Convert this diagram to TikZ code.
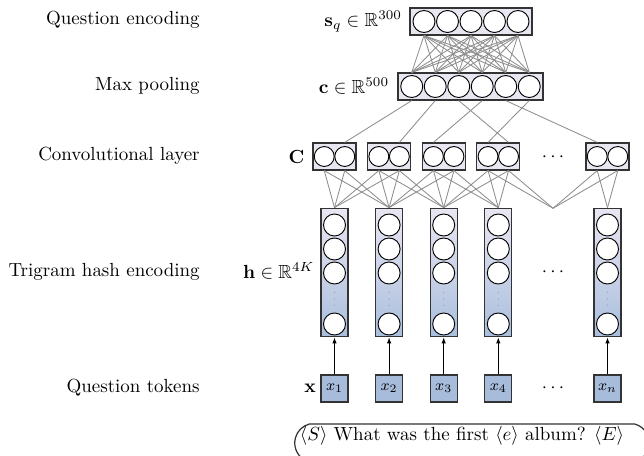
\documentclass[tikz,border=0pt]{standalone}
\usepackage{amssymb}
\usetikzlibrary{arrows.meta,shapes.misc}

\definecolor{lav}{HTML}{E9E6F2}
\definecolor{tokfill}{HTML}{A7BCDB}
\definecolor{hbot}{HTML}{A9BEDD}
\definecolor{frame}{HTML}{333333}
\definecolor{linkc}{HTML}{8E8E8E}

\tikzset{
  layerbox/.style={draw=frame, line width=0.65pt, fill=lav, minimum height=14.2pt, inner sep=0pt},
  unit/.style={circle, draw=black, line width=0.5pt, fill=white, minimum size=11.6pt, inner sep=0pt},
  smallunit/.style={unit, minimum size=10.5pt},
  hcol/.style={draw=frame, line width=0.65pt, top color=lav, bottom color=hbot,
    minimum width=14.2pt, minimum height=67.7pt, inner sep=0pt},
  tokbox/.style={draw=frame, line width=0.65pt, fill=tokfill, minimum size=14.2pt, inner sep=0pt, font=\footnotesize},
  link/.style={draw=linkc, line width=0.45pt},
  rowlabel/.style={anchor=east, inner sep=0pt},
  mathlabel/.style={anchor=east, inner sep=0pt},
  uparrow/.style={-{Latex[length=3.2pt,width=2.4pt]}, line width=0.5pt, draw=black},
  vdot/.style={fill=gray!70, draw=none},
}

\begin{document}
\begin{tikzpicture}[x=0.527pt, y=-0.527pt]
\useasboundingbox (0,0) rectangle (644,456);

% row titles
\node[rowlabel] (tq) at (200,20)  {Question encoding};
\node[rowlabel] (tp) at (200,86)  {Max pooling};
\node[rowlabel] (tc) at (200,156) {Convolutional layer};
\node[rowlabel] (th) at (200,272) {Trigram hash encoding};
\node[rowlabel] (tt) at (200,388) {Question tokens};

% question encoding layer
\node[layerbox, minimum width=64.3pt] (sqbox) at (471,21.5) {};
\foreach \k in {1,...,5}
  \node[unit] (sq\k) at ({471+(\k-3)*23.5},21.5) {};
\node[mathlabel] (sqlab) at ([xshift=-3.7pt]sqbox.west) {$\mathbf{s}_q\in\mathbb{R}^{300}$};

% max pooling layer
\node[layerbox, minimum width=76.4pt] (cbox) at (470.5,86.5) {};
\foreach \j in {1,...,6}
  \node[unit] (c\j) at ({470.5+(\j-3.5)*23.5},86.5) {};
\node[mathlabel] (clab) at ([xshift=-4.2pt]cbox.west) {$\mathbf{c}\in\mathbb{R}^{500}$};

% convolutional layer, hash columns and tokens
\foreach \p/\t in {1/1,2/2,3/3,4/4,6/n} {
  \pgfmathsetmacro{\xx}{334.5+(\p-1)*54.6}
  \node[layerbox, minimum width=22.7pt] (cv\p) at (\xx,156.5) {};
  \node[smallunit] (cv\p a) at (\xx-10.25,156.5) {};
  \node[smallunit] (cv\p b) at (\xx+10.25,156.5) {};
  \node[hcol] (h\p) at (\xx,272.5) {};
  \foreach \yy [count=\r] in {225,249,273,324}
    \node[unit] (h\p u\r) at (\xx,\yy) {};
  \foreach \yy in {292.5,299,305.5}
    \fill[vdot] (\xx,\yy) circle (0.75);
  \node[tokbox] (x\p) at (\xx,388.5) {$x_{\t}$};
  \coordinate (ht\p) at (h\p.north);
  \draw[uparrow] (x\p.north) -- (h\p.south);
}
\coordinate (ht5) at (553,208.3);

\node[mathlabel] (cvlab) at ([xshift=-4pt]cv1.west) {$\mathbf{C}$};
\node[mathlabel] (hlab) at ([xshift=-3pt,yshift=1pt]h1.west) {$\mathbf{h}\in\mathbb{R}^{4K}$};
\node[mathlabel] (xlab) at ([xshift=-2.2pt]x1.west) {$\mathbf{x}$};

% ellipses for the omitted positions
\node (dc) at (553,157) {$\cdots$};
\node (dh) at (553,272) {$\cdots$};
\node (dx) at (553,388) {$\cdots$};

% fully connected: pooling -> encoding
\foreach \k in {1,...,5}
  \foreach \j in {1,...,6}
    \draw[link] (sq\k |- sqbox.south) -- (c\j |- cbox.north);

% pooling -> convolution
\foreach \j/\b/\s in {1/1/b,2/2/b,3/4/b,4/3/a,5/6/a,6/4/a}
  \draw[link] (c\j |- cbox.south) -- (cv\b\s |- cv\b.north);

% convolution windows over three neighbouring columns
\foreach \p/\q in {1/1,1/2,2/1,2/2,2/3,3/2,3/3,3/4,4/3,4/4,4/5,6/5,6/6}
  \foreach \s in {a,b}
    \draw[link] (cv\p\s |- cv\p.south) -- (ht\q);

% input sentence
\node[draw=frame, line width=0.65pt, rounded rectangle, rounded rectangle arc length=150,
      minimum width=193.5pt, minimum height=20pt] (sentbox) at (472,443) {};
\node (sent) at (462,436) {$\langle S\rangle$ What was the first $\langle e\rangle$ album? $\langle E\rangle$};
\end{tikzpicture}
\end{document}
